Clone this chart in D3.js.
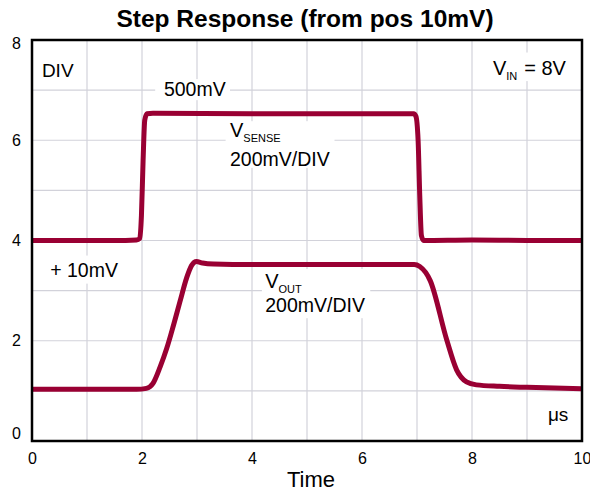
<!DOCTYPE html>
<html>
<head>
<meta charset="utf-8">
<script src="https://cdn.jsdelivr.net/npm/d3@7"></script>
<style>
body { margin: 0; background: #fff; }
text { font-family: "Liberation Sans", Arial, sans-serif; fill: #000; }
</style>
</head>
<body>
<svg id="chart" width="590" height="492"></svg>
<script>
var X_TICKS = [0, 2, 4, 6, 8, 10];
var Y_TICKS = [0, 2, 4, 6, 8];
var GRID_X = [1, 2, 3, 4, 5, 6, 7, 8, 9];
var GRID_Y = [1, 2, 3, 4, 5, 6, 7];

// V_SENSE trace (time in us, screen divisions)
var SENSE_T = [0, 1.5, 1.9, 1.96, 1.99, 2.02, 2.05, 2.09, 2.2, 4, 6, 6.94, 6.98, 7.02, 7.05, 7.08, 7.12, 8, 9, 10];
var SENSE_V = [4.0, 4.0, 4.01, 4.04, 4.5, 5.6, 6.4, 6.53, 6.54, 6.53, 6.53, 6.53, 6.48, 6.0, 4.9, 4.1, 4.0, 4.01, 4.0, 4.0];

// V_OUT trace
var OUT_T = [0, 1, 1.9, 2.08, 2.2, 2.33, 2.45, 2.57, 2.69, 2.81, 2.9, 2.99, 3.1, 3.3, 4, 5, 6, 6.95, 7.05, 7.24, 7.54, 7.72, 7.9, 8.08, 8.5, 9, 10];
var OUT_V = [1.03, 1.03, 1.03, 1.05, 1.15, 1.48, 1.85, 2.3, 2.78, 3.25, 3.5, 3.58, 3.55, 3.53, 3.52, 3.52, 3.52, 3.52, 3.48, 3.2, 2.02, 1.42, 1.18, 1.12, 1.09, 1.07, 1.04];

var TITLE = "Step Response (from pos 10mV)";
var X_LABEL = "Time";

var svg = d3.select("#chart");
var margin = { left: 32, right: 8, top: 40, bottom: 51 };
var W = 590, H = 492;

var x = d3.scaleLinear().domain([0, 10]).range([margin.left, W - margin.right]);
var y = d3.scaleLinear().domain([0, 8]).range([H - margin.bottom, margin.top]);

// grid
svg.append("g").selectAll("line.gx")
	.data(GRID_X).enter().append("line")
	.attr("x1", function(d) { return x(d); }).attr("x2", function(d) { return x(d); })
	.attr("y1", y(0)).attr("y2", y(8))
	.style("stroke", "#d2d2da").style("stroke-width", 1.2);
svg.append("g").selectAll("line.gy")
	.data(GRID_Y).enter().append("line")
	.attr("y1", function(d) { return y(d); }).attr("y2", function(d) { return y(d); })
	.attr("x1", x(0)).attr("x2", x(10))
	.style("stroke", "#d2d2da").style("stroke-width", 1.2);

// label backgrounds (white boxes hide the grid under the text)
var boxes = [
	[2.24, 6.8, 3.6, 7.22],
	[3.52, 5.45, 5.5, 6.38],
	[0.24, 3.14, 1.64, 3.7],
	[4.18, 2.45, 6.15, 3.43],
	[8.3, 7.18, 9.96, 7.75]
];
svg.append("g").selectAll("rect")
	.data(boxes).enter().append("rect")
	.attr("x", function(b) { return x(b[0]); })
	.attr("y", function(b) { return y(b[3]); })
	.attr("width", function(b) { return x(b[2]) - x(b[0]); })
	.attr("height", function(b) { return y(b[1]) - y(b[3]); })
	.style("fill", "#fff");

// traces
var line = d3.line()
	.x(function(d) { return x(d[0]); })
	.y(function(d) { return y(d[1]); })
	.curve(d3.curveMonotoneX);

svg.append("path")
	.datum(d3.zip(SENSE_T, SENSE_V))
	.attr("d", line)
	.style("fill", "none").style("stroke", "#990033")
	.style("stroke-width", 5).style("stroke-linejoin", "round");

svg.append("path")
	.datum(d3.zip(OUT_T, OUT_V))
	.attr("d", line)
	.style("fill", "none").style("stroke", "#990033")
	.style("stroke-width", 5).style("stroke-linejoin", "round");

// frame
svg.append("rect")
	.attr("x", x(0)).attr("y", y(8))
	.attr("width", x(10) - x(0)).attr("height", y(0) - y(8))
	.style("fill", "none").style("stroke", "#000").style("stroke-width", 2.5);

// axes
var xAxis = svg.append("g")
	.attr("transform", "translate(0," + y(0) + ")")
	.call(d3.axisBottom(x).tickValues(X_TICKS).tickSize(0).tickPadding(12).tickFormat(d3.format("d")));
xAxis.select(".domain").remove();
xAxis.selectAll("text").style("font-size", "16px").style("font-family", "Liberation Sans, Arial, sans-serif");

var yAxis = svg.append("g")
	.attr("transform", "translate(" + x(0) + ",0)")
	.call(d3.axisLeft(y).tickValues(Y_TICKS).tickSize(0).tickPadding(11).tickFormat(d3.format("d")));
yAxis.select(".domain").remove();
yAxis.selectAll("text").style("font-size", "16px").style("font-family", "Liberation Sans, Arial, sans-serif")
	.attr("dy", function(d) { return d === 0 ? "-0.15em" : d === 8 ? "0.5em" : "0.32em"; });

// titles
svg.append("text")
	.attr("x", (x(0) + x(10)) / 2 - 2).attr("y", 27)
	.attr("text-anchor", "middle")
	.style("font-size", "24.5px").style("font-weight", "bold")
	.text(TITLE);

svg.append("text")
	.attr("x", (x(0) + x(10)) / 2 + 4).attr("y", 487)
	.attr("text-anchor", "middle")
	.style("font-size", "22px")
	.text(X_LABEL);

// annotations
function note(tx, ty, str, size, anchor) {
	return svg.append("text")
		.attr("x", x(tx)).attr("y", y(ty))
		.attr("text-anchor", anchor || "start")
		.style("font-size", size + "px")
		.text(str);
}

note(0.18, 7.27, "DIV", 19);
note(2.96, 6.89, "500mV", 19.5, "middle");
note(0.33, 3.27, "+ 10mV", 19.5);
note(9.38, 0.4, "\u03bcs", 19);

function subLabel(tx, ty, main, sub, after) {
	var t = svg.append("text").attr("x", x(tx)).attr("y", y(ty)).style("font-size", "20px");
	t.append("tspan").text(main);
	t.append("tspan").attr("dy", 5).style("font-size", "11px").text(sub);
	if (after) t.append("tspan").attr("dy", -5).attr("dx", 7).text(after);
	return t;
}

subLabel(3.6, 6.06, "V", "SENSE");
note(3.6, 5.49, "200mV/DIV", 19.5);
subLabel(4.24, 3.06, "V", "OUT");
note(4.24, 2.58, "200mV/DIV", 19.5);
subLabel(8.38, 7.3, "V", "IN", "= 8V");
</script>
</body>
</html>
